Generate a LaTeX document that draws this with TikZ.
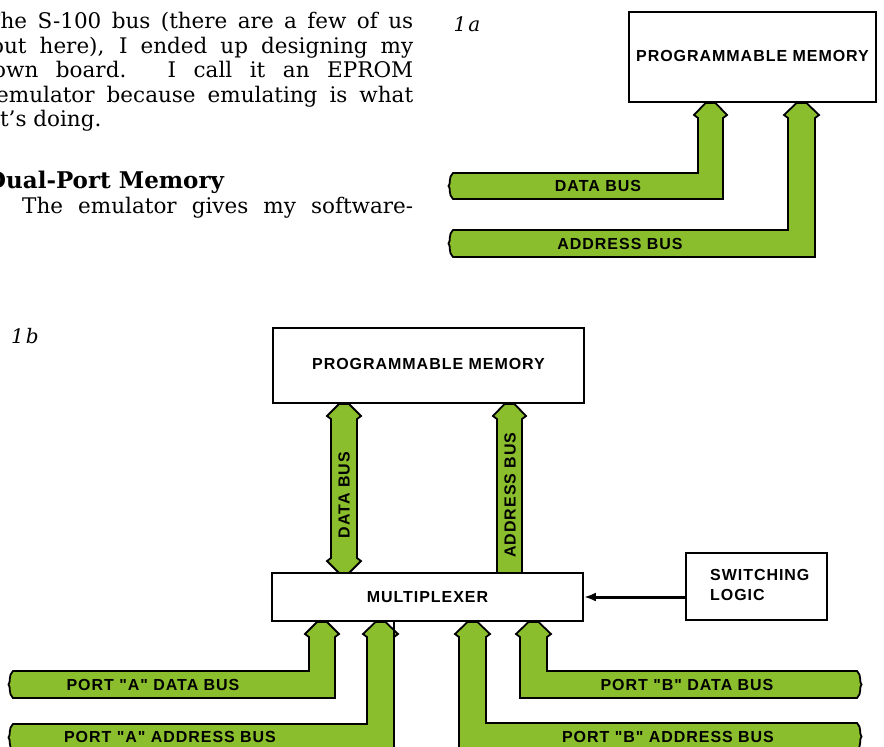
\documentclass[tikz,border=0pt]{standalone}
\usepackage{fontspec}
\setmainfont{DejaVu Serif}
\newfontfamily\labfont[LetterSpace=6]{Liberation Sans}
\newfontfamily\figfont{DejaVu Serif}
\usetikzlibrary{arrows.meta}
\definecolor{busgreen}{RGB}{138,190,44}
\tikzset{
  x=1pt, y=-1pt,
  bus/.style={fill=busgreen, draw=black, line width=1.8pt, line join=miter},
  buslabel/.style={font=\labfont\bfseries\fontsize{16}{20}\selectfont, inner sep=0pt},
  blockbox/.style={draw=black, fill=white, line width=1.8pt, inner sep=0pt,
                   font=\labfont\bfseries\fontsize{16}{20}\selectfont},
  bodyline/.style={anchor=base west, inner sep=0pt, font=\fontsize{21.5}{25}\selectfont},
  figlabel/.style={font=\figfont\itshape\fontsize{20}{22}\selectfont, inner sep=0pt}
}
\begin{document}
\begin{tikzpicture}
\useasboundingbox (0,0) rectangle (884,747);
\clip (0,0) rectangle (884,747);

% ---------- running text ----------
\node[bodyline] (t1) at (-14,28) {\makebox[427pt][s]{The S-100 bus (there are a few of us}};
\node[bodyline] (t2) at (-9,53) {\makebox[422pt][s]{out here), I ended up designing my}};
\node[bodyline] (t3) at (-7,77) {\makebox[420pt][s]{own board. I call it an EPROM}};
\node[bodyline] (t4) at (-4,102) {\makebox[417pt][s]{emulator because emulating is what}};
\node[bodyline] (t5) at (-7,126) {it’s doing.};
\node[bodyline, font=\bfseries\fontsize{23}{25}\selectfont] (hd) at (-14,188) {Dual-Port Memory};
\node[bodyline] (t6) at (22,213) {\makebox[391pt][s]{The emulator gives my software-}};

% ---------- figure 1a ----------
\node[figlabel] (l1a) at (467,24) {1\kern2pt a};

\path[bus] (453,173) -- (698,173) -- (698,118) -- (694,115) -- (705.5,103) -- (715.5,103)
  -- (727,115) -- (723,118) -- (723,199) -- (453,199)
  .. controls (448,195) and (451,187) .. (448.5,186) .. controls (451,185) and (448,177) .. (453,173) -- cycle;
\path[bus] (453,230) -- (788,230) -- (788,118) -- (784,115) -- (796.5,103) -- (806.5,103)
  -- (819,115) -- (815,118) -- (815,257) -- (453,257)
  .. controls (448,253) and (451,245) .. (448.5,243.5) .. controls (451,242) and (448,234) .. (453,230) -- cycle;
\node[buslabel] (d1lab) at (598,186) {DATA BUS};
\node[buslabel] (a1lab) at (620,244) {ADDRESS BUS};

\node[blockbox, minimum width=247pt, minimum height=90pt] (mem1) at (752.5,57) {\raisebox{3pt}{PROGRAMMABLE MEMORY}};

% ---------- figure 1b ----------
\node[figlabel] (l1b) at (25,336) {1\kern2pt b};

% data bus (double arrow)
\path[bus] (331,419) -- (327,416) -- (339,404) -- (349,404) -- (361,416) -- (357,419)
  -- (357,558) -- (361,561) -- (349,573) -- (339,573) -- (327,561) -- (331,558) -- cycle;
\node[buslabel, rotate=90] (d2lab) at (344,495) {DATA BUS};
% address bus (single arrow up)
\path[bus] (497,575) -- (497,419) -- (493,416) -- (504.5,404) -- (514.5,404) -- (526,416) -- (522,419) -- (522,575);
\node[buslabel, rotate=90] (a2lab) at (510,495) {ADDRESS BUS};

% port A data bus
\path[bus] (13,671) -- (309,671) -- (309,637) -- (305,634) -- (317,622) -- (327,622) -- (339,634) -- (335,637)
  -- (335,698) -- (13,698)
  .. controls (8,694) and (11,686) .. (8.5,684.5) .. controls (11,683) and (8,675) .. (13,671) -- cycle;
\node[buslabel] (padlab) at (153,685) {PORT "A" DATA BUS};
% port A address bus
\path[bus] (13,724) -- (367,724) -- (367,637) -- (363,634) -- (375.5,622) -- (385.5,622) -- (398,634) -- (394,637)
  -- (394,751) -- (13,751)
  .. controls (8,747) and (11,739) .. (8.5,737.5) .. controls (11,736) and (8,728) .. (13,724) -- cycle;
\node[buslabel] (paalab) at (170,737) {PORT "A" ADDRESS BUS};

% port B address bus
\path[bus] (459,751) -- (459,637) -- (455,634) -- (467.5,622) -- (477.5,622) -- (490,634) -- (486,637)
  -- (486,723) -- (857,723)
  .. controls (862,727) and (859,735) .. (861.5,736.5) .. controls (859,738) and (862,746) .. (857,751) -- cycle;
\node[buslabel] (pbalab) at (668,737) {PORT "B" ADDRESS BUS};
% port B data bus
\path[bus] (520,698) -- (520,637) -- (516,634) -- (528.5,622) -- (538.5,622) -- (551,634) -- (547,637)
  -- (547,671) -- (857,671)
  .. controls (862,675) and (859,683) .. (861.5,684.5) .. controls (859,686) and (862,694) .. (857,698) -- cycle;
\node[buslabel] (pbdlab) at (687,685) {PORT "B" DATA BUS};

\node[blockbox, minimum width=311pt, minimum height=75pt] (mem2) at (428.5,365.5) {\raisebox{3pt}{PROGRAMMABLE MEMORY}};
\node[blockbox, minimum width=311pt, minimum height=48pt] (mux) at (427.5,597) {MULTIPLEXER};
\node[blockbox, minimum width=141pt, minimum height=67pt] (sw) at (756.5,586.5) {};
\node[buslabel, anchor=west, align=left] (swtext) at (710,585) {SWITCHING\\LOGIC};

\coordinate (colrule) at (394,747);
\draw[line width=1.6pt] (mux.south -| colrule) -- (colrule);
\draw[line width=3pt, -{Latex[length=12pt,width=9pt]}] (sw.west |- mux.east) -- (mux.east);
\end{tikzpicture}
\end{document}
